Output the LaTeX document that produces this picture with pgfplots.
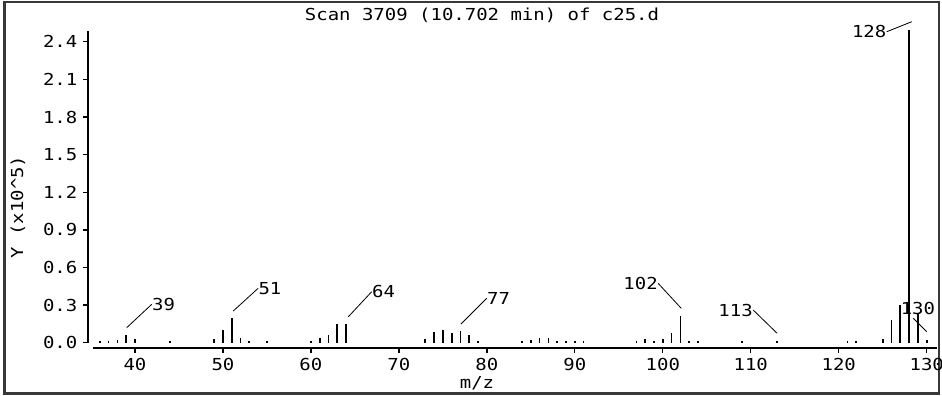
\documentclass[border=0pt]{standalone}
\usepackage{pgfplots}
\pgfplotsset{compat=1.18}
\usepackage{fontspec}
\setmainfont{DejaVu Sans Mono}[FakeStretch=1.15]
\begin{document}
\fontsize{16.5}{19}\selectfont
\begin{tikzpicture}
\useasboundingbox (0pt,0pt) rectangle (942pt,396pt);
\draw[line width=2.5pt, black!78] (4.5pt,2.5pt) rectangle (939pt,394pt);
\begin{axis}[
  at={(88pt,48pt)}, anchor=south west,
  scale only axis, width=849pt, height=317pt,
  xmin=34.66, xmax=131.17, ymin=-0.042, ymax=2.486,
  axis x line=bottom, axis y line=left,
  axis line style={draw=none},
  xtick={40,50,...,130},
  ytick={0,0.3,0.6,0.9,1.2,1.5,1.8,2.1,2.4},
  tick align=outside, major tick length=5pt,
  tick style={black, line width=1.3pt},
  /pgf/number format/assume math mode=true,
  yticklabel style={/pgf/number format/fixed, /pgf/number format/fixed zerofill, /pgf/number format/precision=1},
  clip=false,
]
\addplot[ycomb, black, line width=1.7pt, mark=none] coordinates {
(36,0.015) (37,0.015) (38,0.02) (39,0.058) (40,0.03) (44,0.012)
(49,0.03) (50,0.10) (51,0.195) (52,0.04) (53,0.012) (55,0.012)
(60,0.015) (61,0.037) (62,0.058) (63,0.15) (64,0.15)
(73,0.027) (74,0.088) (75,0.10) (76,0.077) (77,0.09) (78,0.058) (79,0.012)
(84,0.012) (85,0.02) (86,0.04) (87,0.04) (88,0.015) (89,0.015) (90,0.012) (91,0.012)
(97,0.012) (98,0.03) (99,0.015) (100,0.03) (101,0.08) (102,0.21) (103,0.015) (104,0.012)
(109,0.012) (113,0.01) (121,0.012) (122,0.012)
(125,0.03) (126,0.18) (127,0.30) (128,2.49) (129,0.24) (130,0.025)
};
\draw[line width=1.5pt] (axis cs:34.66,0) -- (axis cs:34.66,2.486);
\draw[line width=1.5pt] (axis cs:35.2,-0.042) -- (axis cs:131.17,-0.042);
\draw[line width=0.8pt] (axis cs:39.06,0.12) -- (axis cs:41.9,0.306) node[anchor=west, inner sep=0pt] {39};
\draw[line width=0.8pt] (axis cs:51.17,0.253) -- (axis cs:54.0,0.434) node[anchor=west, inner sep=0pt] {51};
\draw[line width=0.8pt] (axis cs:64.25,0.207) -- (axis cs:66.91,0.407) node[anchor=west, inner sep=0pt] {64};
\draw[line width=0.8pt] (axis cs:77.06,0.149) -- (axis cs:79.98,0.354) node[anchor=west, inner sep=0pt] {77};
\draw[line width=0.8pt] (axis cs:102.1,0.274) -- (axis cs:99.47,0.474) node[anchor=east, inner sep=0pt] {102};
\draw[line width=0.8pt] (axis cs:113.0,0.075) -- (axis cs:110.27,0.261) node[anchor=east, inner sep=0pt] {113};
\draw[line width=0.8pt] (axis cs:128.3,2.56) -- (axis cs:125.45,2.48) node[anchor=east, inner sep=0pt] {128};
\draw[line width=0.8pt] (axis cs:129.99,0.088) -- (axis cs:128.47,0.195);
\node[inner sep=0pt] at (axis cs:129.0,0.277) {130};
\end{axis}
\node at (482pt,381pt) {Scan 3709 (10.702 min) of c25.d};
\node[rotate=90] at (18pt,189pt) {Y (x10\textasciicircum 5)};
\node at (477pt,13pt) {m/z};
\end{tikzpicture}
\end{document}
